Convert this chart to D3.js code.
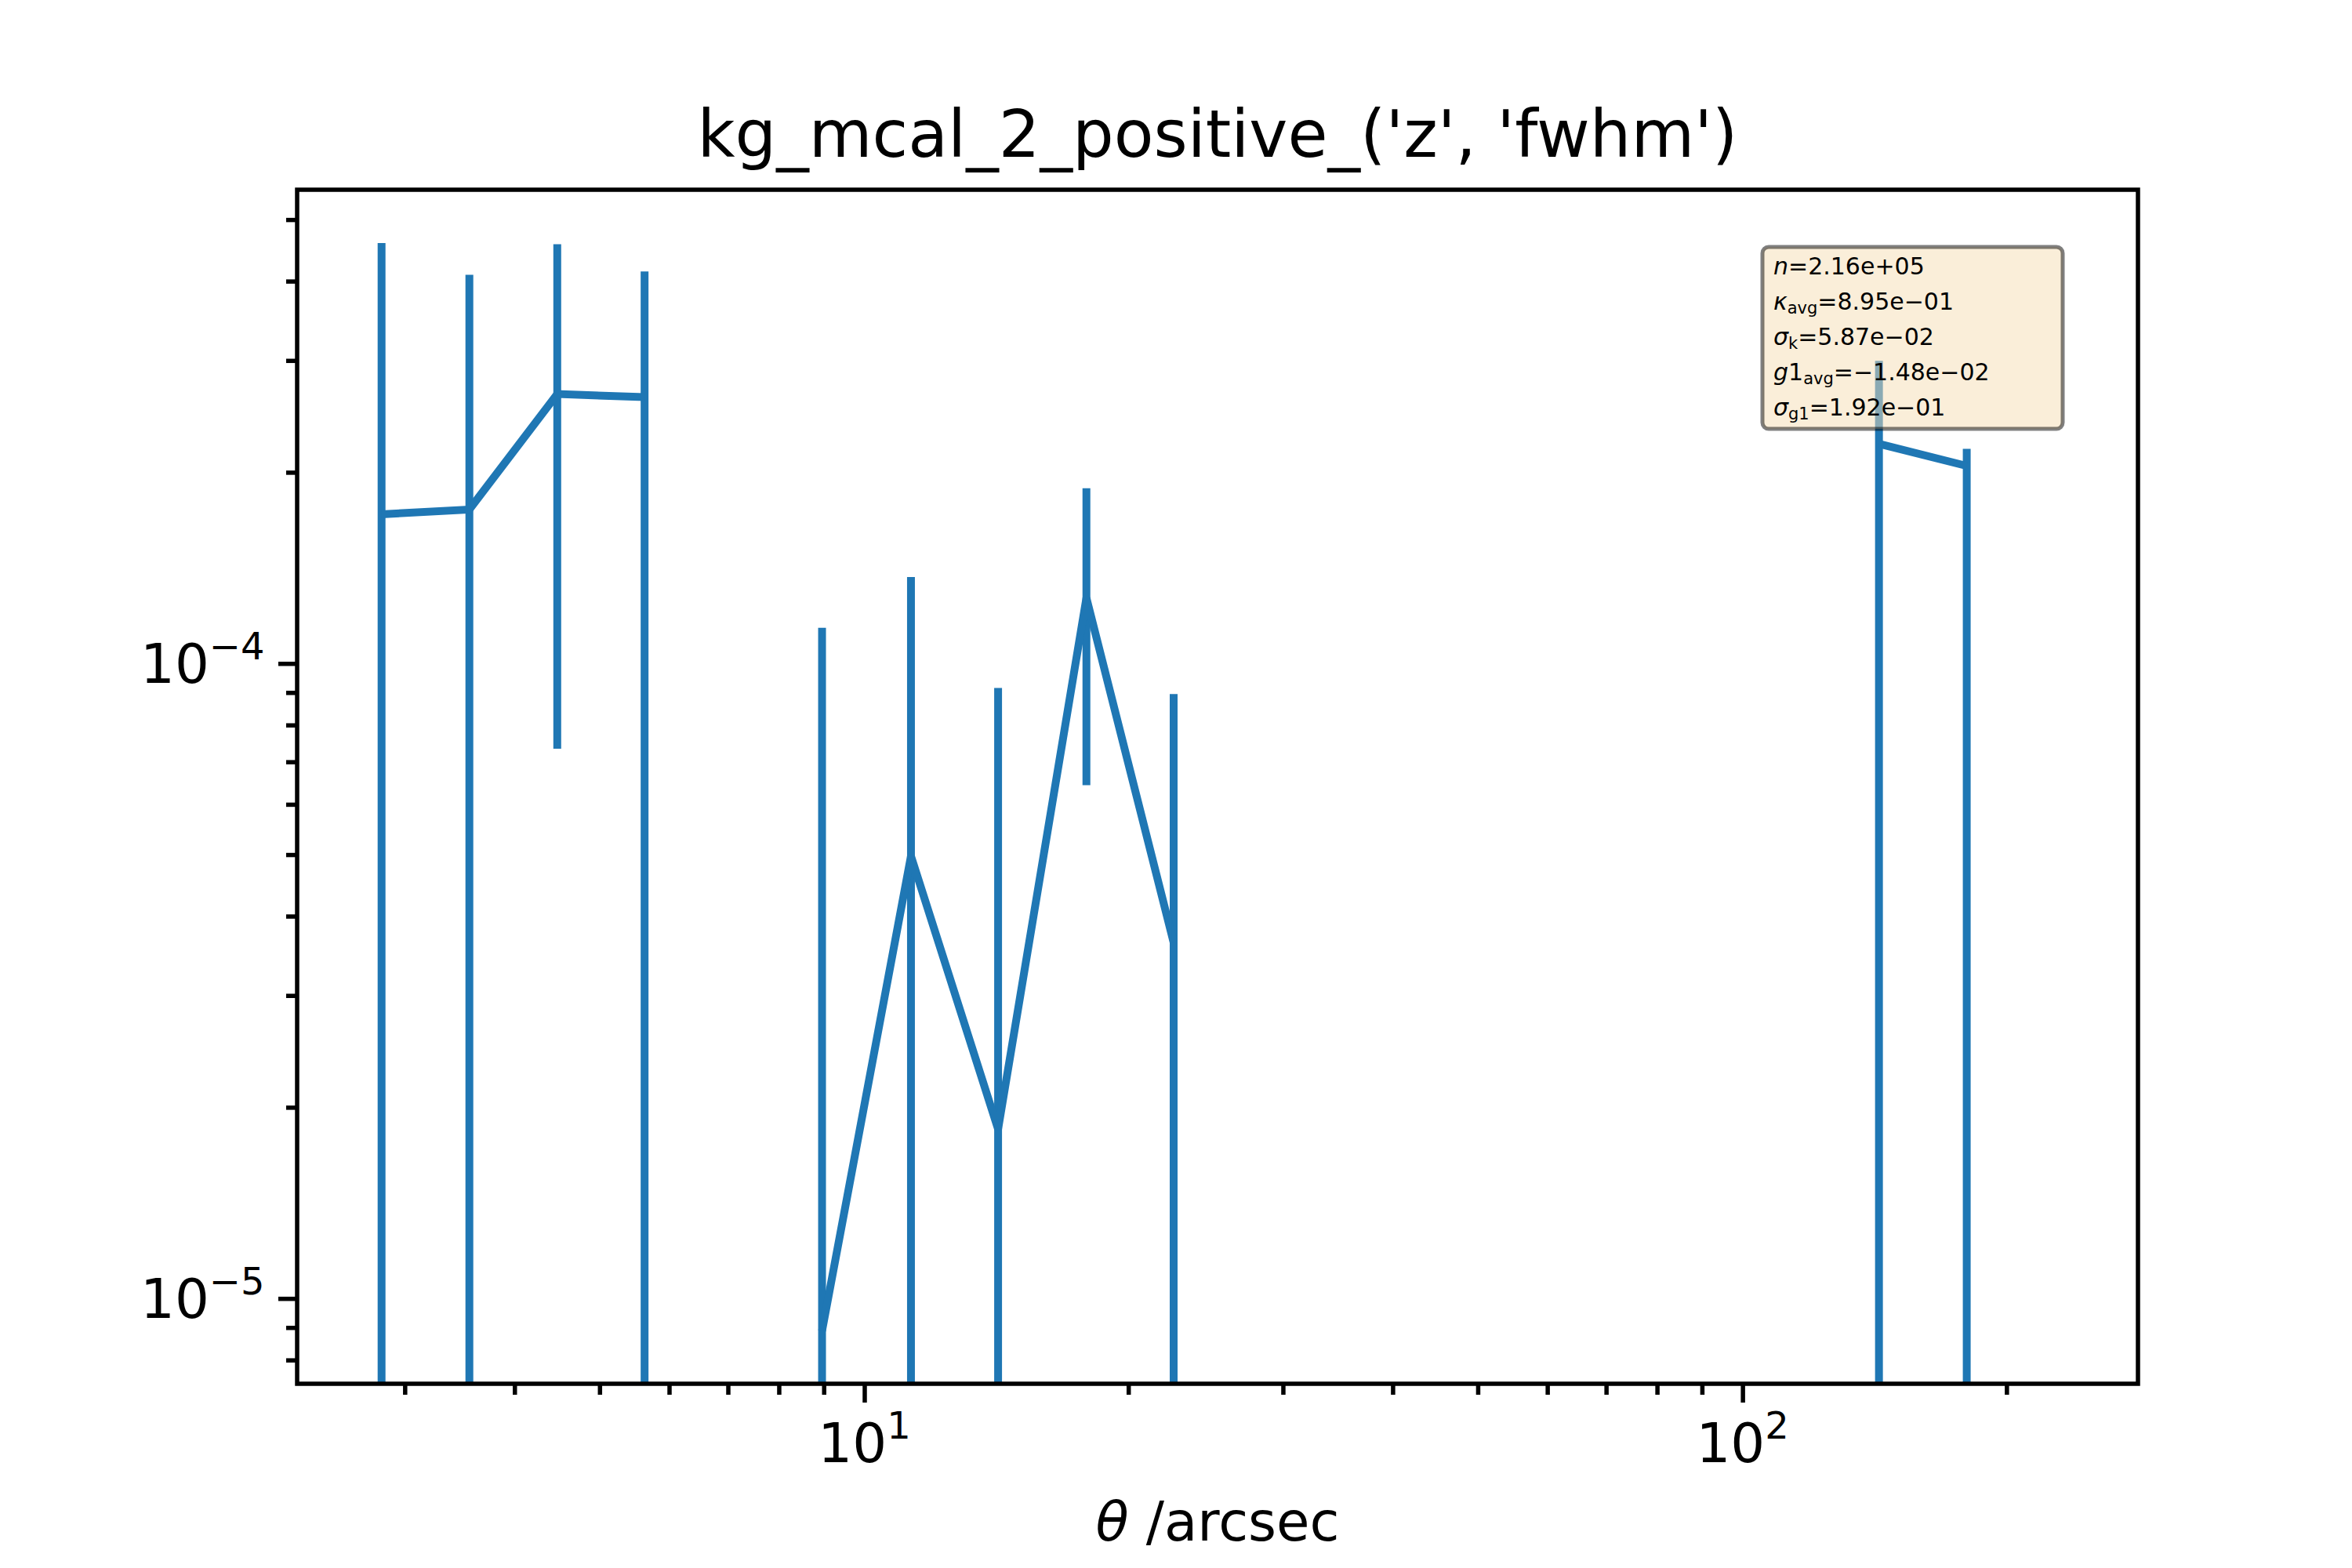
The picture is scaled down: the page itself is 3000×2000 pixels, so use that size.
<!DOCTYPE html>
<html><head><meta charset="utf-8">
<script src="https://cdn.jsdelivr.net/npm/d3@7"></script>
<style>body{margin:0;background:#fff}text{font-family:"DejaVu Sans",sans-serif}</style>
</head><body><svg id="c" width="3000" height="2000"></svg>
<script>
var theta = [2.82, 3.55, 4.47, 5.62, 8.95, 11.3, 14.2, 17.9, 22.5, 143, 180];
var xi = [1.72e-4, 1.75e-4, 2.66e-4, 2.63e-4, 8.9e-6, 4.98e-5, 1.85e-5, 1.27e-4, 3.64e-5, 2.22e-4, 2.05e-4];
var errTop = [4.6e-4, 4.1e-4, 4.58e-4, 4.15e-4, 1.14e-4, 1.37e-4, 9.16e-5, 1.89e-4, 8.96e-5, 3.0e-4, 2.18e-4];
var errBot = [1e-7, 1e-7, 7.35e-5, 1e-7, 1e-7, 1e-7, 1e-7, 6.44e-5, 1e-7, 1e-7, 1e-7];
var segment = [0, 0, 0, 0, 1, 1, 1, 1, 1, 2, 2];
var boxLines = [
  [["i","n"],["","=2.16e+05"]],
  [["i","κ"],["sub","avg"],["","=8.95e−01"]],
  [["i","σ"],["sub","k"],["","=5.87e−02"]],
  [["i","g"],["","1"],["sub","avg"],["","=−1.48e−02"]],
  [["i","σ"],["sub","g1"],["","=1.92e−01"]]
];

var svg = d3.select("#c");
var L = 379, R = 2727, T = 242, B = 1765;
var x = d3.scaleLog().domain([2.26, 282]).range([L, R]);
var y = d3.scaleLog().domain([7.35e-6, 5.58e-4]).range([B, T]);
var blue = "#1f77b4";

svg.append("defs").append("clipPath").attr("id", "clip")
  .append("rect").attr("x", L).attr("y", T).attr("width", R - L).attr("height", B - T);

// axes
var xAxis = d3.axisBottom(x).tickSizeOuter(0).tickSize(24).tickPadding(14)
  .tickValues([10, 100]).tickFormat(function () { return ""; });
var gx = svg.append("g").attr("transform", "translate(0," + B + ")").call(xAxis);
var xMinor = [3,4,5,6,7,8,9,20,30,40,50,60,70,80,90,200];
gx.selectAll(".mn").data(xMinor).join("line").attr("class", "mn")
  .attr("x1", d => x(d)).attr("x2", d => x(d)).attr("y1", 0).attr("y2", 14)
  .attr("stroke", "#000").attr("stroke-width", 5.5);
gx.selectAll(".tick line").attr("stroke-width", 5.5);
gx.select(".domain").remove();
[[10, "1"], [100, "2"]].forEach(function (t) {
  var tx = svg.append("text").attr("x", x(t[0])).attr("y", B + 100)
    .attr("text-anchor", "middle").attr("font-size", 69).text("10");
  tx.append("tspan").attr("dy", -30).attr("font-size", 48).text(t[1]);
});

var gy = svg.append("g").attr("transform", "translate(" + L + ",0)");
var yMinor = [8e-6, 9e-6, 2e-5, 3e-5, 4e-5, 5e-5, 6e-5, 7e-5, 8e-5, 9e-5, 2e-4, 3e-4, 4e-4, 5e-4];
gy.selectAll(".mn").data(yMinor).join("line").attr("class", "mn")
  .attr("y1", d => y(d)).attr("y2", d => y(d)).attr("x1", 0).attr("x2", -14)
  .attr("stroke", "#000").attr("stroke-width", 5.5);
[[1e-4, "−4"], [1e-5, "−5"]].forEach(function (t) {
  gy.append("line").attr("y1", y(t[0])).attr("y2", y(t[0])).attr("x1", 0).attr("x2", -24)
    .attr("stroke", "#000").attr("stroke-width", 5.5);
  var tx = svg.append("text").attr("x", L - 200).attr("y", y(t[0]) + 24)
    .attr("font-size", 69).text("10");
  tx.append("tspan").attr("dy", -30).attr("font-size", 48).text(t[1]);
});

// data
var plot = svg.append("g").attr("clip-path", "url(#clip)");
plot.selectAll(".err").data(theta).join("line")
  .attr("x1", d => x(d)).attr("x2", d => x(d))
  .attr("y1", (d, i) => y(errBot[i])).attr("y2", (d, i) => y(errTop[i]))
  .attr("stroke", blue).attr("stroke-width", 10);
var line = d3.line().x(d => x(theta[d])).y(d => y(xi[d]));
d3.groups(d3.range(theta.length), i => segment[i]).forEach(function (g) {
  plot.append("path").attr("d", line(g[1])).attr("fill", "none")
    .attr("stroke", blue).attr("stroke-width", 10).attr("stroke-linejoin", "miter");
});

svg.append("rect").attr("x", L).attr("y", T).attr("width", R - L).attr("height", B - T)
  .attr("fill", "none").attr("stroke", "#000").attr("stroke-width", 5.5);

// info box
svg.append("rect").attr("x", 2248).attr("y", 315).attr("width", 383).attr("height", 232)
  .attr("rx", 8).attr("fill", "#f5deb3").attr("fill-opacity", 0.5)
  .attr("stroke", "#000").attr("stroke-opacity", 0.5).attr("stroke-width", 5);
boxLines.forEach(function (ln, i) {
  var t = svg.append("text").attr("x", 2262).attr("y", 350 + i * 45).attr("font-size", 30);
  ln.forEach(function (p) {
    var s = t.append("tspan").text(p[1]);
    if (p[0] === "i") s.attr("font-style", "italic");
    if (p[0] === "sub") s.attr("font-size", 21).attr("baseline-shift", "-25%");
  });
});

svg.append("text").attr("x", (L + R) / 2).attr("y", 200).attr("text-anchor", "middle")
  .attr("font-size", 83).text("kg_mcal_2_positive_('z', 'fwhm')");
var xl = svg.append("text").attr("x", (L + R) / 2).attr("y", 1965).attr("text-anchor", "middle")
  .attr("font-size", 69);
xl.append("tspan").attr("font-style", "italic").text("θ");
xl.append("tspan").text(" /arcsec");
</script></body></html>
